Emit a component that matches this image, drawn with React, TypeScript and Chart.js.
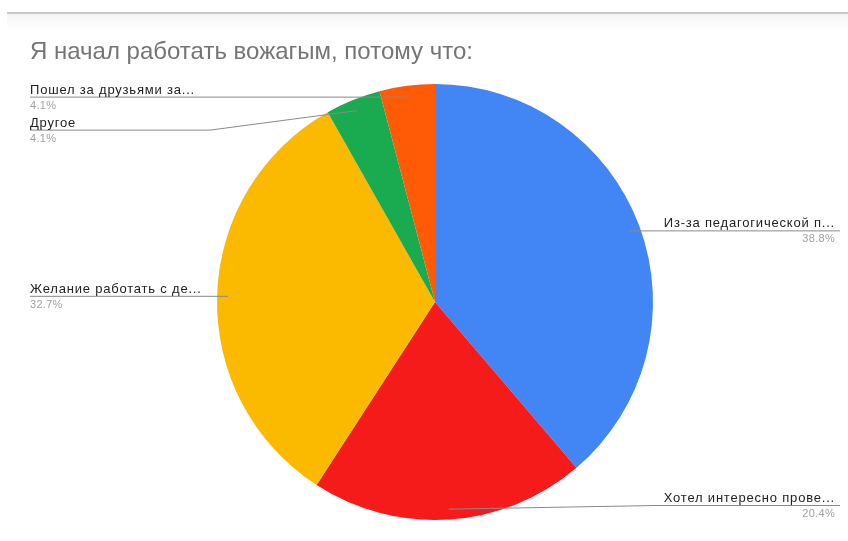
import React, { useEffect, useRef } from "react";
import { Chart, registerables } from "chart.js";

Chart.register(...registerables);

const chartTitle = "Я начал работать вожагым, потому что:";
const categories = [
  "Из-за педагогической п...",
  "Хотел интересно прове...",
  "Желание работать с де...",
  "Другое",
  "Пошел за друзьями за...",
];
const shares = [38.8, 20.4, 32.7, 4.1, 4.1];
const sliceColors = ["#4285f4", "#f51b1b", "#fbb900", "#1aaa50", "#ff5a05"];

const FONT = "'Liberation Sans', Arial, sans-serif";

const decorPlugin = {
  id: "decor",
  beforeDraw(chart: any) {
    const ctx = chart.ctx;
    ctx.save();
    ctx.fillStyle = "#c8c8c8";
    ctx.fillRect(7, 12, chart.width - 7, 2);
    const g = ctx.createLinearGradient(0, 14, 0, 30);
    g.addColorStop(0, "rgba(0,0,0,0.04)");
    g.addColorStop(1, "rgba(0,0,0,0)");
    ctx.fillStyle = g;
    ctx.fillRect(7, 14, chart.width - 7, 16);
    ctx.fillStyle = "#757575";
    ctx.font = `24px ${FONT}`;
    ctx.textBaseline = "alphabetic";
    ctx.textAlign = "left";
    ctx.fillText(chartTitle, 30, 59);
    ctx.restore();
  },
  afterDatasetsDraw(chart: any) {
    const ctx = chart.ctx;
    const meta = chart.getDatasetMeta(0);
    const cx0 = (chart.chartArea.left + chart.chartArea.right) / 2;
    const items: any[] = [];
    meta.data.forEach((el: any, i: number) => {
      const p = el.getProps(["x", "y", "startAngle", "endAngle", "outerRadius"], true);
      const mid = (p.startAngle + p.endAngle) / 2;
      const r = p.outerRadius * 0.95;
      const px = p.x + Math.cos(mid) * r;
      const py = p.y + Math.sin(mid) * r;
      items.push({ i, px, py, left: px < cx0, ly: py });
    });
    [true, false].forEach((side) => {
      const arr = items.filter((it) => it.left === side).sort((a, b) => a.py - b.py);
      for (let k = 1; k < arr.length; k++) {
        if (arr[k].ly - arr[k - 1].ly < 33) arr[k].ly = arr[k - 1].ly + 33;
      }
      arr.forEach((it) => {
        if (it.ly > chart.height - 36) it.ly = chart.height - 36;
      });
    });
    ctx.save();
    items.forEach((it) => {
      const label = chart.data.labels[it.i];
      const val = chart.data.datasets[0].data[it.i];
      const pct = val.toFixed(1) + "%";
      ctx.strokeStyle = "#8a8a8a";
      ctx.lineWidth = 1;
      ctx.beginPath();
      if (it.left) {
        ctx.moveTo(30, it.ly + 0.5);
        ctx.lineTo(210, it.ly + 0.5);
        ctx.lineTo(it.px, it.py + 0.5);
      } else {
        ctx.moveTo(840, it.ly + 0.5);
        ctx.lineTo(655, it.ly + 0.5);
        ctx.lineTo(it.px, it.py + 0.5);
      }
      ctx.stroke();
      ctx.font = `13px ${FONT}`;
      (ctx as any).letterSpacing = "0.8px";
      ctx.fillStyle = "#222222";
      ctx.textBaseline = "alphabetic";
      ctx.textAlign = it.left ? "left" : "right";
      const tx = it.left ? 30 : 835;
      ctx.fillText(label, tx, it.ly - 3);
      ctx.font = `11px ${FONT}`;
      (ctx as any).letterSpacing = "0.3px";
      ctx.fillStyle = "#a0a0a0";
      ctx.fillText(pct, tx, it.ly + 12);
      (ctx as any).letterSpacing = "0px";
    });
    ctx.restore();
  },
};

export default function App() {
  const ref = useRef<HTMLCanvasElement>(null);
  useEffect(() => {
    if (!ref.current) return;
    const chart = new Chart(ref.current, {
      type: "pie",
      data: {
        labels: categories,
        datasets: [
          {
            data: shares,
            backgroundColor: sliceColors,
            borderWidth: 0,
          },
        ],
      },
      options: {
        responsive: false,
        animation: false,
        devicePixelRatio: 1,
        layout: { padding: { left: 217, right: 195, top: 84, bottom: 21 } },
        plugins: {
          legend: { display: false },
          tooltip: { enabled: false },
          title: { display: false },
        },
      },
      plugins: [decorPlugin],
    });
    return () => chart.destroy();
  }, []);
  return (
    <div style={{ position: "absolute", left: 0, top: 0, width: 848, height: 541, background: "#fff" }}>
      <canvas ref={ref} width={848} height={541} />
    </div>
  );
}
